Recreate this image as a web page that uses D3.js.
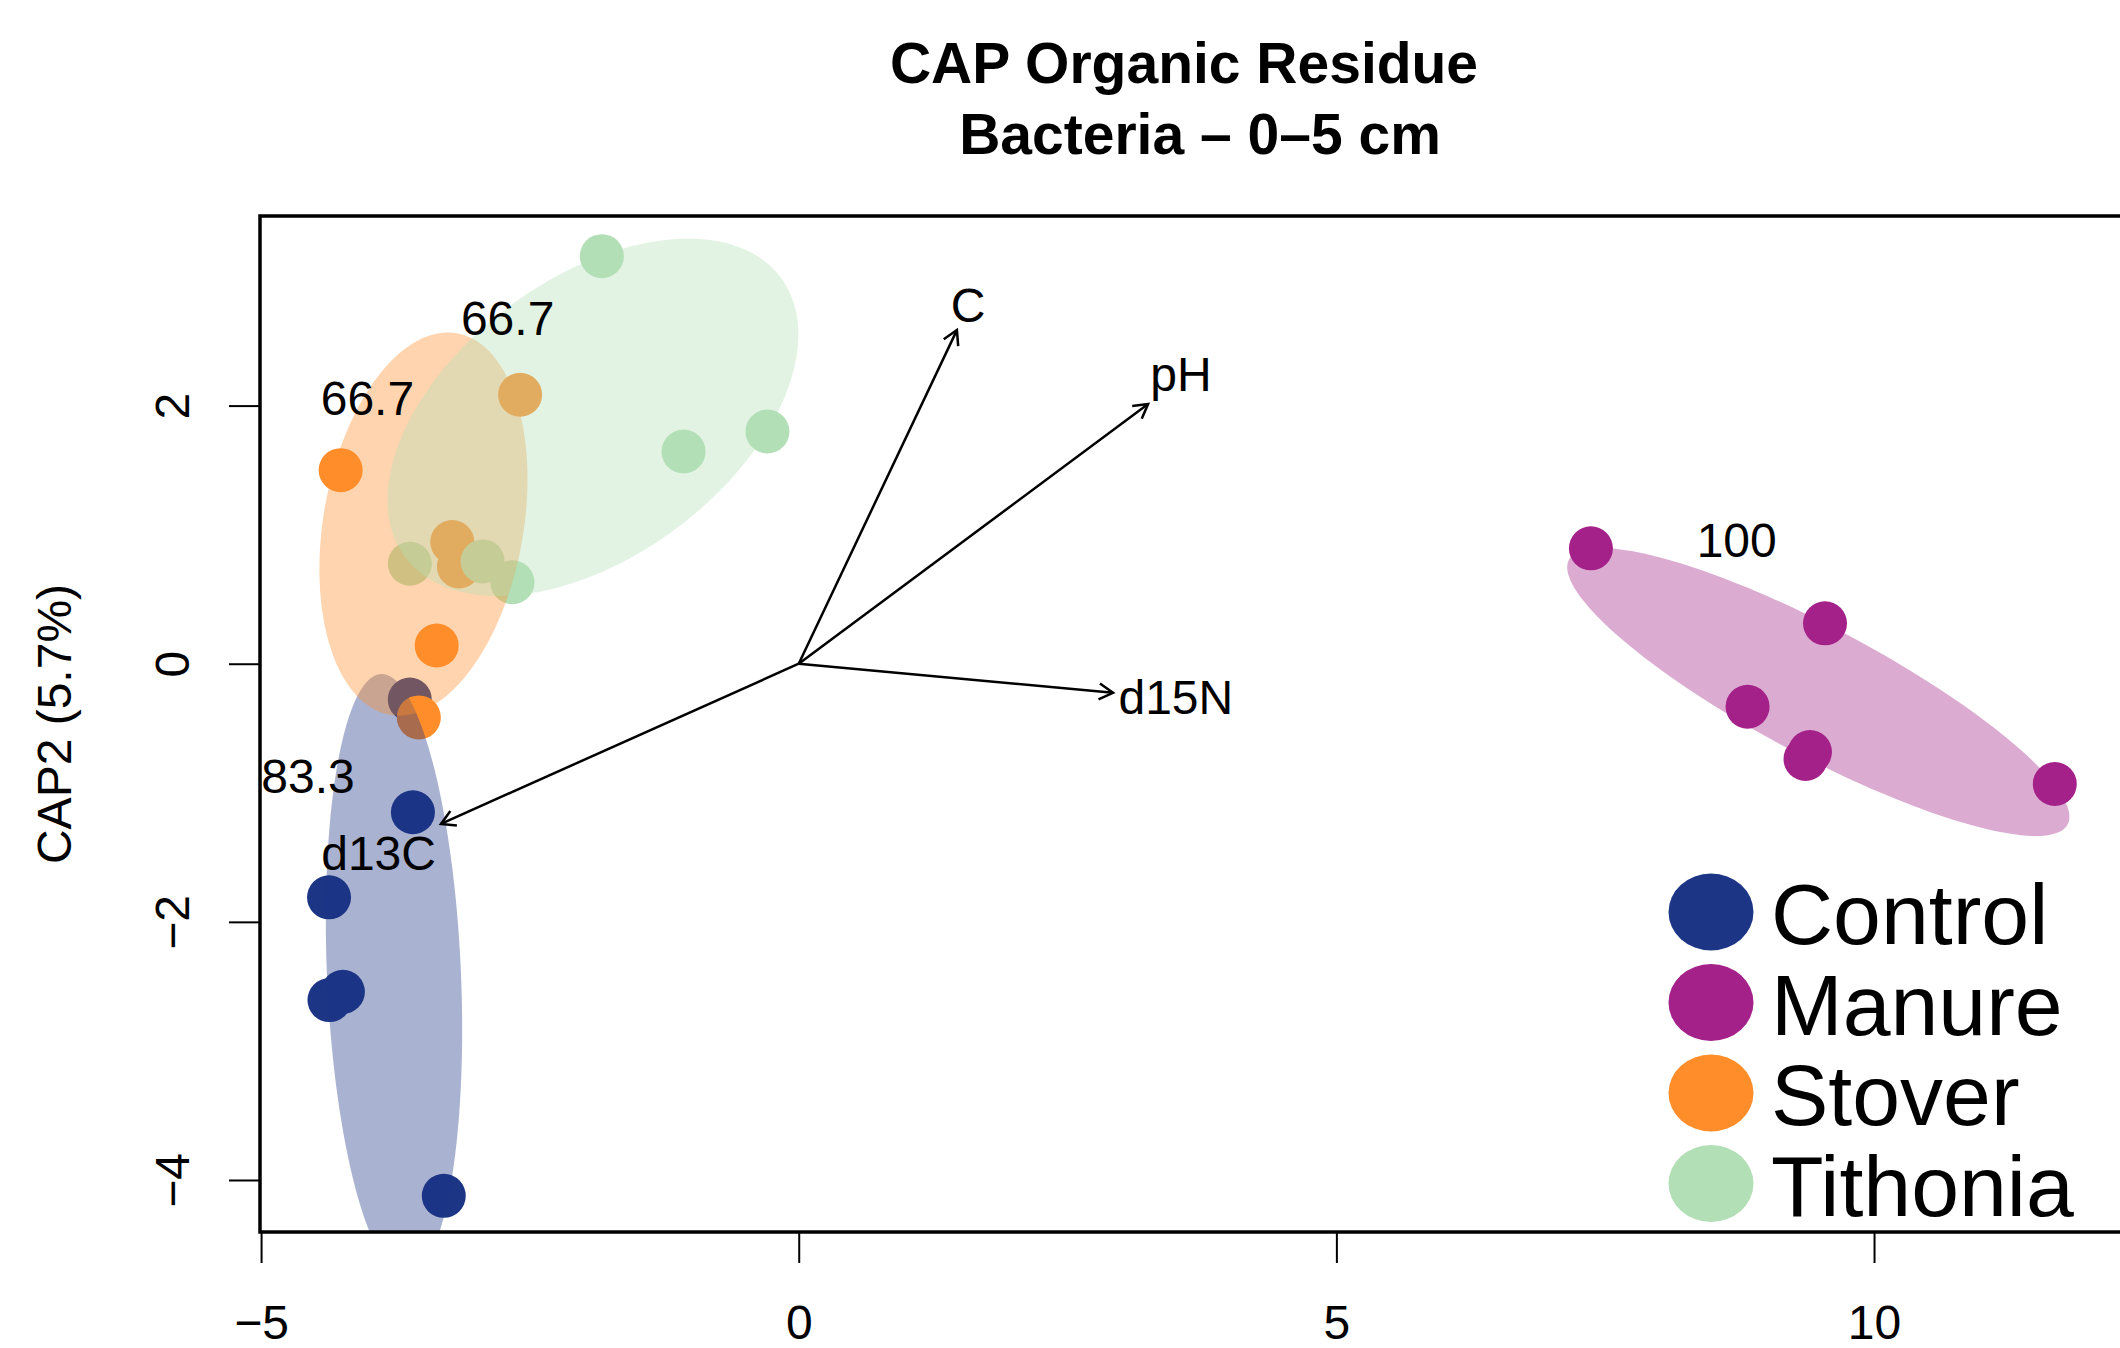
<!DOCTYPE html>
<html>
<head>
<meta charset="utf-8">
<script src="https://cdn.jsdelivr.net/npm/d3@7"></script>
<style>
  body { margin: 0; background: #fff; }
  svg { display: block; font-family: "Liberation Sans", Arial, Helvetica, sans-serif; }
</style>
</head>
<body>
<div id="chart"></div>
<script>
// groups and colours
var groups = ["Control", "Manure", "Stover", "Tithonia"];
var groupColors = ["#1c3585", "#a42189", "#fe8d2a", "#b3dfb6"];

// site scores (CAP1, CAP2) per group
var controlX = [-3.617, -3.588, -4.368, -4.364, -4.239, -3.301];
var controlY = [-0.277, -1.151, -1.810, -2.606, -2.542, -4.123];
var manureX = [7.367, 9.544, 8.824, 9.404, 9.363, 11.681];
var manureY = [0.894, 0.313, -0.333, -0.684, -0.738, -0.932];
var stoverX = [-4.260, -2.591, -3.222, -3.160, -3.367, -3.533];
var stoverY = [1.500, 2.084, 0.943, 0.753, 0.141, -0.416];
var tithoniaX = [-1.831, -1.071, -0.291, -3.617, -2.940, -2.662];
var tithoniaY = [3.158, 1.644, 1.799, 0.775, 0.793, 0.631];

// group ellipses: centre and covariance (Control, Manure, Stover, Tithonia)
var ellipseCx = [-3.764, 9.482, -3.490, -1.914];
var ellipseCy = [-2.412, -0.219, 1.082, 1.909];
var ellipseSxx = [0.402, 5.453, 0.936, 3.649];
var ellipseSxy = [-0.268, -2.256, 0.337, 1.225];
var ellipseSyy = [5.439, 1.245, 2.203, 1.917];

// envfit vectors
var vectorNames = ["C", "pH", "d15N", "d13C"];
var vectorX = [1.471, 3.249, 2.923, -3.327];
var vectorY = [2.585, 2.012, -0.225, -1.241];
var vectorLabelX = [1.574, 3.555, 3.507, -3.907];
var vectorLabelY = [2.785, 2.245, -0.254, -1.459];

// classification labels
var groupLabelText = ["66.7", "66.7", "83.3", "100"];
var groupLabelX = [-4.011, -2.707, -4.563, 8.723];
var groupLabelY = [2.059, 2.682, -0.865, 0.960];

var xTicks = [-5, 0, 5, 10];
var yTicks = [-4, -2, 0, 2];

var titleLines = ["CAP Organic Residue", "Bacteria \u2013 0\u20135 cm"];
var yTitle = "CAP2 (5.7%)";

var pointsX = [controlX, manureX, stoverX, tithoniaX];
var pointsY = [controlY, manureY, stoverY, tithoniaY];

var W = 2120, H = 1348;
var margin = {top: 216, left: 260, right: -2, bottom: 116};
var width = W - margin.left - margin.right,
  height = H - margin.top - margin.bottom;

var x = d3.scaleLinear().domain([-5.01, 12.306]).range([0, width]);
var y = d3.scaleLinear().domain([-4.403, 3.469]).range([height, 0]);

var svg = d3.select("#chart").append("svg")
  .attr("width", W)
  .attr("height", H);

// title
svg.selectAll(".title")
  .data(titleLines)
  .enter().append("text")
  .attr("class", "title")
  .attr("x", function(d, i) { return i == 0 ? 1184 : 1200; })
  .attr("y", function(d, i) { return 83 + i * 71; })
  .attr("text-anchor", "middle")
  .attr("font-weight", "bold")
  .attr("font-size", 57)
  .text(function(d) { return d; });

var g = svg.append("g")
  .attr("transform", "translate(" + margin.left + "," + margin.top + ")");

g.append("clipPath").attr("id", "plotclip")
  .append("rect").attr("width", width).attr("height", height);

// axes
var xAxis = d3.axisBottom(x).tickValues(xTicks).tickSize(31).tickPadding(42);
var yAxis = d3.axisLeft(y).tickValues(yTicks).tickSize(31);

var gx = g.append("g")
  .attr("transform", "translate(0," + height + ")")
  .call(xAxis);
var gy = g.append("g").call(yAxis);

[gx, gy].forEach(function(a) {
  a.select(".domain").remove();
  a.selectAll("line").attr("stroke-width", 2);
  a.selectAll("text").attr("font-size", 48).attr("fill", "#000")
    .attr("font-family", "Liberation Sans, Arial, sans-serif");
});
gy.selectAll("text")
  .attr("x", 0).attr("y", 0).attr("dy", 0)
  .attr("text-anchor", "middle")
  .attr("transform", "translate(-71,0) rotate(-90)");

svg.append("text")
  .attr("transform", "translate(71," + (margin.top + height / 2) + ") rotate(-90)")
  .attr("text-anchor", "middle")
  .attr("font-size", 48)
  .text(yTitle);

var plot = g.append("g").attr("clip-path", "url(#plotclip)");

// points
groups.forEach(function(grp, gi) {
  plot.selectAll(".pt-" + gi)
    .data(d3.range(pointsX[gi].length))
    .enter().append("circle")
    .attr("class", "pt-" + gi)
    .attr("cx", function(i) { return x(pointsX[gi][i]); })
    .attr("cy", function(i) { return y(pointsY[gi][i]); })
    .attr("r", 22)
    .attr("fill", groupColors[gi]);
});

// ellipses over the points
var line = d3.line()
  .x(function(d) { return x(d[0]); })
  .y(function(d) { return y(d[1]); })
  .curve(d3.curveLinearClosed);

groups.forEach(function(grp, gi) {
  var l11 = Math.sqrt(ellipseSxx[gi]);
  var l21 = ellipseSxy[gi] / l11;
  var l22 = Math.sqrt(ellipseSyy[gi] - l21 * l21);
  var pts = d3.range(0, 2 * Math.PI, Math.PI / 90).map(function(t) {
    var c = Math.cos(t), s = Math.sin(t);
    return [ellipseCx[gi] + l11 * c, ellipseCy[gi] + l21 * c + l22 * s];
  });
  plot.append("path")
    .attr("d", line(pts))
    .attr("fill", groupColors[gi])
    .attr("fill-opacity", 0.38);
});

// vectors
var x0 = x(0), y0 = y(0);
vectorNames.forEach(function(name, i) {
  var x1 = x(vectorX[i]), y1 = y(vectorY[i]);
  var ang = Math.atan2(y1 - y0, x1 - x0);
  var len = 16, spread = Math.PI / 6;
  var head = "M" + (x1 - len * Math.cos(ang - spread)) + "," + (y1 - len * Math.sin(ang - spread)) +
    "L" + x1 + "," + y1 +
    "L" + (x1 - len * Math.cos(ang + spread)) + "," + (y1 - len * Math.sin(ang + spread));
  g.append("line")
    .attr("x1", x0).attr("y1", y0).attr("x2", x1).attr("y2", y1)
    .attr("stroke", "#000").attr("stroke-width", 2.5);
  g.append("path").attr("d", head)
    .attr("fill", "none").attr("stroke", "#000").attr("stroke-width", 2.5);
  g.append("text")
    .attr("x", x(vectorLabelX[i]))
    .attr("y", y(vectorLabelY[i]) + 17.5)
    .attr("text-anchor", "middle")
    .attr("font-size", 48)
    .text(name);
});

// classification labels
g.selectAll(".glab")
  .data(groupLabelText)
  .enter().append("text")
  .attr("class", "glab")
  .attr("x", function(d, i) { return x(groupLabelX[i]); })
  .attr("y", function(d, i) { return y(groupLabelY[i]) + 17.5; })
  .attr("text-anchor", "middle")
  .attr("font-size", 48)
  .text(function(d) { return d; });

// box
g.append("rect")
  .attr("width", width).attr("height", height)
  .attr("fill", "none").attr("stroke", "#000").attr("stroke-width", 3.5);

// legend
var legend = svg.append("g").attr("transform", "translate(1711,912)");
var item = legend.selectAll(".leg")
  .data(groups)
  .enter().append("g")
  .attr("transform", function(d, i) { return "translate(0," + (i * 90.5) + ")"; });
item.append("ellipse")
  .attr("rx", 42.5).attr("ry", 38.5)
  .attr("fill", function(d, i) { return groupColors[i]; });
item.append("text")
  .attr("x", 60).attr("y", 32)
  .attr("font-size", 86)
  .text(function(d) { return d; });
</script>
</body>
</html>
